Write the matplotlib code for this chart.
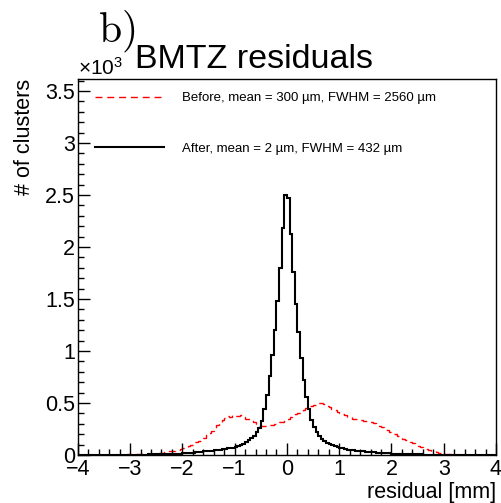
import numpy as np
import matplotlib
matplotlib.use('Agg')
import matplotlib.pyplot as plt
from matplotlib.ticker import MultipleLocator, FormatStrFormatter

plt.rcParams['font.family'] = ['Liberation Sans', 'DejaVu Sans']
plt.rcParams['mathtext.fontset'] = 'custom'
plt.rcParams['mathtext.rm'] = 'Liberation Sans'
plt.rcParams['mathtext.it'] = 'Liberation Sans:italic'

###################################################################
# histogram binning: 160 bins of 0.05 mm from -4 to 4
edges = np.linspace(-4, 4, 161)

# counts in units of 10^3, 10 bins (0.5 mm) per row
before = [
    0.001, 0.001, 0.000, 0.001, 0.001, 0.001, 0.002, 0.001, 0.001, 0.002,
    0.002, 0.002, 0.002, 0.003, 0.002, 0.003, 0.003, 0.004, 0.004, 0.005,
    0.005, 0.006, 0.006, 0.007, 0.008, 0.009, 0.010, 0.011, 0.013, 0.015,
    0.017, 0.019, 0.022, 0.025, 0.029, 0.034, 0.040, 0.046, 0.053, 0.060,
    0.068, 0.076, 0.085, 0.096, 0.108, 0.121, 0.134, 0.150, 0.168, 0.188,
    0.210, 0.232, 0.258, 0.285, 0.310, 0.338, 0.352, 0.372, 0.366, 0.384,
    0.378, 0.372, 0.380, 0.362, 0.348, 0.342, 0.334, 0.322, 0.300, 0.282,
    0.276, 0.282, 0.280, 0.290, 0.288, 0.298, 0.302, 0.314, 0.322, 0.340,
    0.348, 0.364, 0.372, 0.392, 0.402, 0.420, 0.430, 0.450, 0.458, 0.470,
    0.485, 0.496, 0.502, 0.496, 0.490, 0.474, 0.464, 0.446, 0.434, 0.416,
    0.406, 0.394, 0.384, 0.368, 0.364, 0.350, 0.346, 0.338, 0.338, 0.328,
    0.326, 0.316, 0.314, 0.304, 0.296, 0.280, 0.272, 0.256, 0.244, 0.226,
    0.212, 0.198, 0.186, 0.170, 0.158, 0.146, 0.136, 0.124, 0.112, 0.100,
    0.090, 0.080, 0.070, 0.060, 0.051, 0.043, 0.035, 0.028, 0.022, 0.017,
    0.013, 0.010, 0.008, 0.006, 0.005, 0.004, 0.003, 0.003, 0.002, 0.002,
    0.002, 0.001, 0.001, 0.001, 0.001, 0.000, 0.001, 0.001, 0.000, 0.001,
]

after = [
    0.000, 0.000, 0.000, 0.001, 0.000, 0.000, 0.001, 0.000, 0.001, 0.001,
    0.001, 0.001, 0.001, 0.001, 0.001, 0.002, 0.001, 0.002, 0.002, 0.002,
    0.002, 0.002, 0.003, 0.003, 0.003, 0.004, 0.004, 0.005, 0.005, 0.006,
    0.006, 0.007, 0.007, 0.008, 0.009, 0.009, 0.010, 0.011, 0.013, 0.014,
    0.016, 0.018, 0.019, 0.021, 0.023, 0.025, 0.028, 0.031, 0.034, 0.037,
    0.040, 0.042, 0.045, 0.048, 0.051, 0.055, 0.059, 0.063, 0.067, 0.072,
    0.078, 0.086, 0.096, 0.108, 0.122, 0.140, 0.160, 0.185, 0.220, 0.260,
    0.330, 0.440, 0.580, 0.760, 0.960, 1.200, 1.480, 1.800, 2.180, 2.500,
    2.470, 2.120, 1.760, 1.450, 1.180, 0.930, 0.720, 0.560, 0.440, 0.340,
    0.270, 0.220, 0.185, 0.155, 0.135, 0.118, 0.104, 0.093, 0.084, 0.076,
    0.069, 0.063, 0.058, 0.053, 0.049, 0.045, 0.042, 0.039, 0.036, 0.034,
    0.031, 0.029, 0.027, 0.025, 0.023, 0.021, 0.019, 0.018, 0.016, 0.015,
    0.014, 0.012, 0.011, 0.010, 0.009, 0.008, 0.008, 0.007, 0.006, 0.006,
    0.005, 0.005, 0.004, 0.004, 0.003, 0.003, 0.003, 0.002, 0.002, 0.002,
    0.002, 0.001, 0.001, 0.001, 0.001, 0.001, 0.001, 0.000, 0.001, 0.000,
    0.000, 0.001, 0.000, 0.000, 0.000, 0.001, 0.000, 0.000, 0.000, 0.000,
]

labels = [u'Before, mean = 300 \u00b5m, FWHM = 2560 \u00b5m',
          u'After, mean = 2 \u00b5m, FWHM = 432 \u00b5m']

##################################################################
fig = plt.figure(figsize=(5.02, 5.03), dpi=100)
ax = fig.add_axes([0.155, 0.0954, 0.833, 0.7476])

ax.stairs(before, edges, color='red', lw=1.0, linestyle=(0, (5, 3.5)), label=labels[0])
ax.stairs(after, edges, color='black', lw=1.5, label=labels[1])

ax.set_xlim(-4, 4)
ax.set_ylim(0, 3.615)

ax.xaxis.set_major_locator(MultipleLocator(1))
ax.xaxis.set_minor_locator(MultipleLocator(0.2))
ax.yaxis.set_major_locator(MultipleLocator(0.5))
ax.yaxis.set_minor_locator(MultipleLocator(0.1))
ax.yaxis.set_major_formatter(FormatStrFormatter('%g'))

ax.tick_params(which='both', direction='in', top=False, right=False)
ax.tick_params(which='major', length=8.5, width=1.0, labelsize=15.5)
ax.tick_params(which='minor', length=4.2, width=1.0)
ax.tick_params(axis='x', pad=3)
ax.tick_params(axis='y', pad=2)
for s in ax.spines.values():
    s.set_linewidth(1.0)

ax.set_xlabel('residual [mm]', fontsize=15.5, loc='right')
ax.xaxis.set_label_coords(1.0, -0.072)
ax.set_ylabel('# of clusters', fontsize=15.5, loc='top')
ax.yaxis.set_label_coords(-0.102, 1.0)

ax.legend(loc='upper left', bbox_to_anchor=(0.04, 0.965), frameon=False,
          fontsize=9.5, handlelength=5.3, handletextpad=1.3,
          labelspacing=2.9, borderpad=0, borderaxespad=0)

###########################
fig.text(0.506, 0.865, 'BMTZ residuals', fontsize=24.5, ha='center', va='baseline')
fig.text(0.155, 0.851, r'$\times10^{3}$', fontsize=15, ha='left', va='baseline')
fig.text(0.195, 0.9165, r'$\mathrm{b)}$', fontsize=30, ha='left', va='baseline',
         math_fontfamily='cm')

plt.savefig('out.png', dpi=100)
